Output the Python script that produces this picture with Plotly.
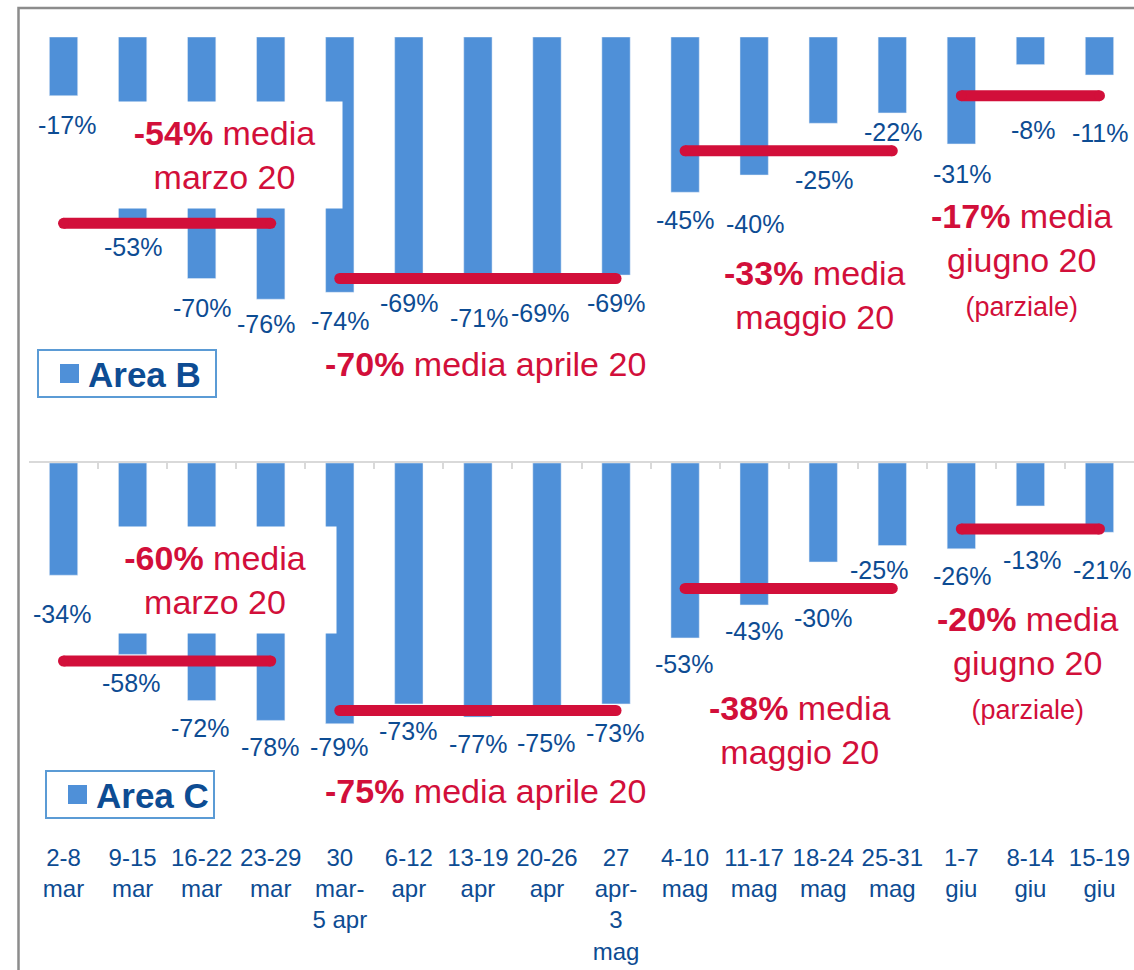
import plotly.graph_objects as go

# ---------------- data ----------------
categories = ["2-8<br>mar", "9-15<br>mar", "16-22<br>mar", "23-29<br>mar",
              "30<br>mar-<br>5 apr", "6-12<br>apr", "13-19<br>apr", "20-26<br>apr",
              "27<br>apr-<br>3<br>mag", "4-10<br>mag", "11-17<br>mag", "18-24<br>mag",
              "25-31<br>mag", "1-7<br>giu", "8-14<br>giu", "15-19<br>giu"]
area_b = [-17, -53, -70, -76, -74, -69, -71, -69, -69, -45, -40, -25, -22, -31, -8, -11]
area_c = [-34, -58, -72, -78, -79, -73, -77, -75, -73, -53, -43, -30, -25, -26, -13, -21]
month_groups = [(0, 3), (4, 8), (9, 12), (13, 15)]
month_names = ["marzo 20", "aprile 20", "maggio 20", "giugno 20"]
avg_b = [-54, -70, -33, -17]
avg_c = [-60, -75, -38, -20]
series_names = ["Area B", "Area C"]

# ---------------- layout helpers (pixels) ----------------
W, H = 1134, 970
BLUE = "#4F90D8"
RED = "#D20F3A"
DARK = "#0D4C93"
FONT = "Liberation Sans, Arial, sans-serif"

def fx(p):
    return p / W

def fy(p):
    return 1 - p / H

PLOT_L = 29
TOP_T, TOP_B, TOP_S = 37, 400, 3.45
BOT_T, BOT_B, BOT_S = 463, 830, 3.30

# data label pixel offsets (below bar end) and x shifts
off_b = [29, 27, 29, 25, 29, 28, 36, 38, 28, 28, 49, 57, 19, 30, 65, 58]
xs_b = [3, 0, 0, -5, 0, 0, 1, -7, 0, 0, 1, 1, 1, 1, 3, 1]
off_c = [39, 29, 27, 27, 23, 27, 27, 32, 29, 26, 26, 56, 24, 27, 54, 38]
xs_c = [-2, -2, -2, -1, -1, -1, 0, -1, -1, -1, 0, 0, -13, 1, 2, 3]

fig = go.Figure()

fig.add_trace(go.Bar(x=categories, y=area_b, marker_color=BLUE, name=series_names[0],
                     xaxis="x", yaxis="y", showlegend=False))
fig.add_trace(go.Bar(x=categories, y=area_c, marker_color=BLUE, name=series_names[1],
                     xaxis="x2", yaxis="y2", showlegend=False))
# invisible helper for the top axis line of lower panel
fig.add_trace(go.Scatter(x=categories, y=area_c, xaxis="x3", yaxis="y2", mode="markers",
                         marker=dict(opacity=0), hoverinfo="skip", showlegend=False))

# average lines
for avgs, xa, ya in [(avg_b, "x", "y"), (avg_c, "x2", "y2")]:
    for (s, e), a in zip(month_groups, avgs):
        fig.add_trace(go.Scatter(x=[categories[s], categories[e]], y=[a, a],
                                 mode="lines+markers", xaxis=xa, yaxis=ya,
                                 line=dict(color=RED, width=11),
                                 marker=dict(color=RED, size=11, symbol="circle"),
                                 hoverinfo="skip", showlegend=False))

annotations = []
# data labels
for vals, offs, xss, xr, yr in [(area_b, off_b, xs_b, "x", "y"), (area_c, off_c, xs_c, "x2", "y2")]:
    for i, v in enumerate(vals):
        annotations.append(dict(x=categories[i], y=v, xref=xr, yref=yr, text=f"{v}%",
                                showarrow=False, yshift=-offs[i], xshift=xss[i],
                                font=dict(family=FONT, size=25, color=DARK)))

# month average texts (pixel centres)
txt_pos_b = [(224.5, 155, 233, 104), (485, 364, None, None), (815, 295, None, None), (1022, 260, None, None)]
txt_pos_c = [(215, 580, 240, 104), (485, 791, None, None), (800, 730, None, None), (1028, 662, None, None)]
for avgs, poss in [(avg_b, txt_pos_b), (avg_c, txt_pos_c)]:
    for k, (a, pos) in enumerate(zip(avgs, poss)):
        name = month_names[k]
        if k == 1:
            t = f"<b>{a}%</b> media {name}"
        elif k == 3:
            t = f"<b>{a}%</b> media<br>{name}<br><span style='font-size:27px'>(parziale)</span>"
        else:
            t = f"<b>{a}%</b> media<br>{name}"
        cx, cy, w, h = pos
        ann = dict(x=fx(cx), y=fy(cy), xref="paper", yref="paper", text=t, showarrow=False,
                   xanchor="center", yanchor="middle", align="center",
                   font=dict(family=FONT, size=34, color=RED))
        if w:
            ann.update(width=w, height=h, bgcolor="white", valign="middle")
        annotations.append(ann)

# legend boxes
shapes = []
for name, (bx0, by0, bx1, by1) in zip(series_names, [(38, 350, 216, 397), (46, 771, 214, 818)]):
    shapes.append(dict(type="rect", xref="paper", yref="paper", x0=fx(bx0), x1=fx(bx1),
                       y0=fy(by1), y1=fy(by0), line=dict(color="#5B9BD5", width=2),
                       fillcolor="white"))
    sq = 19
    sx = bx0 + 22
    sy = (by0 + by1) / 2
    shapes.append(dict(type="rect", xref="paper", yref="paper", x0=fx(sx), x1=fx(sx + sq),
                       y0=fy(sy + sq / 2), y1=fy(sy - sq / 2), line=dict(width=0),
                       fillcolor=BLUE))
    annotations.append(dict(x=fx(sx + sq + 7), y=fy(sy + 1), xref="paper", yref="paper",
                            text=f"<b>{name}</b>", showarrow=False, xanchor="left",
                            yanchor="middle", font=dict(family=FONT, size=35, color=DARK)))

# outer border
shapes.append(dict(type="rect", xref="paper", yref="paper", x0=fx(18.5), x1=1.05,
                   y0=-0.05, y1=fy(8), line=dict(color="#8C8C8C", width=2.5), layer="below"))

fig.update_layout(
    width=W, height=H, margin=dict(l=0, r=0, t=0, b=0),
    paper_bgcolor="white", plot_bgcolor="white",
    bargap=0.59, showlegend=False,
    font=dict(family=FONT, color=DARK),
    xaxis=dict(domain=[fx(PLOT_L), 1], anchor="y", type="category", range=[-0.5, 15.5],
               categoryorder="array", categoryarray=categories,
               showticklabels=False, showline=False, ticks="", showgrid=False, zeroline=False),
    yaxis=dict(domain=[fy(TOP_B), fy(TOP_T)], range=[-(TOP_B - TOP_T) / TOP_S, 0],
               visible=False),
    xaxis2=dict(domain=[fx(PLOT_L), 1], anchor="y2", type="category", range=[-0.5, 15.5],
                categoryorder="array", categoryarray=categories,
                showline=False, ticks="", showgrid=False, zeroline=False,
                ticklabelstandoff=11,
                tickfont=dict(family=FONT, size=24, color=DARK), tickangle=0),
    yaxis2=dict(domain=[fy(BOT_B), fy(BOT_T)], range=[-(BOT_B - BOT_T) / BOT_S, 0],
                visible=False),
    xaxis3=dict(domain=[fx(PLOT_L), 1], anchor="y2", overlaying="x2", side="top",
                type="category", range=[-0.5, 15.5],
                categoryorder="array", categoryarray=categories,
                showline=True, linecolor="#D9D9D9", linewidth=1.5,
                ticks="inside", ticklen=6, tickcolor="#D9D9D9", tickwidth=1.5,
                tickson="boundaries", showticklabels=False, showgrid=False, zeroline=False),
    annotations=annotations, shapes=shapes,
)

fig.write_html("out.html")
